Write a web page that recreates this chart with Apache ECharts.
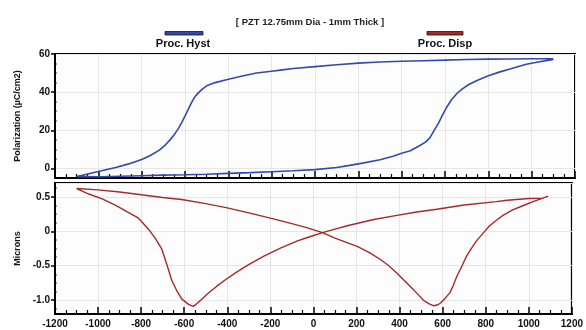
<!DOCTYPE html>
<html>
<head>
<meta charset="utf-8">
<script src="https://cdn.jsdelivr.net/npm/echarts@6/dist/echarts.min.js"></script>
<style>html,body{margin:0;padding:0;background:#fff}#c{width:586px;height:330px}</style>
</head>
<body>
<div id="c"></div>
<script>
// Polarization loop: upper branch (+1100 -> -1100) then lower branch (-1100 -> +1100)
const hystField = [1100,1000,900,800,700,600,500,400,300,200,100,0,-100,-150,-200,-270,-330,-400,-460,-500,-520,-540,-555,-570,-585,-600,-615,-630,-645,-665,-690,-720,-760,-800,-860,-920,-980,-1040,-1100,
  -1100,-1000,-900,-800,-700,-600,-500,-400,-300,-200,-100,0,100,160,220,300,360,400,440,480,510,530,550,570,590,610,630,655,680,710,745,800,850,900,975,1030,1080,1100];
const hystPol = [57.5,57.5,57.4,57.3,57.1,56.8,56.5,56.2,55.8,55.2,54.4,53.4,52.4,51.7,51.0,50.0,48.6,46.8,45.0,43.3,41.6,39.5,37.5,34.5,31.0,27.5,24.0,21.0,18.5,15.5,12.4,9.5,6.8,4.7,2.4,0.5,-1.1,-2.6,-4.3,
  -4.7,-4.4,-4.1,-3.8,-3.5,-3.3,-3.0,-2.6,-2.2,-1.7,-1.2,-0.6,0.5,1.6,2.8,4.6,6.4,8.0,9.3,11.8,13.8,16.0,20.0,23.8,28.3,32.5,36.0,39.3,41.7,44.0,46.0,48.6,50.5,52.1,54.6,55.8,56.8,57.2];

// Displacement butterfly
const dispField = [-1100,-1000,-900,-800,-700,-612,-500,-400,-305,-200,-100,-28,42,100,203,260,311,350,388,430,465,490,511,535,557,575,590,612,634,650,665,690,711,735,757,790,818,850,880,925,972,1020,1065,1090,
  1065,1000,900,849,700,572,480,388,280,157,100,42,-28,-74,-151,-230,-305,-360,-412,-450,-489,-520,-545,-558,-580,-612,-635,-658,-680,-704,-735,-766,-812,-858,-920,-981,-1043,-1100];
const dispMicrons = [0.62,0.60,0.57,0.53,0.49,0.46,0.40,0.34,0.27,0.19,0.11,0.05,-0.02,-0.10,-0.22,-0.31,-0.41,-0.50,-0.61,-0.74,-0.85,-0.93,-1.0,-1.05,-1.08,-1.07,-1.04,-0.97,-0.89,-0.78,-0.66,-0.50,-0.36,-0.24,-0.14,-0.02,0.08,0.16,0.23,0.31,0.37,0.43,0.48,0.51,
  0.48,0.475,0.45,0.43,0.38,0.32,0.28,0.23,0.17,0.08,0.03,-0.02,-0.09,-0.14,-0.24,-0.36,-0.49,-0.60,-0.71,-0.80,-0.90,-0.99,-1.06,-1.09,-1.06,-0.98,-0.86,-0.71,-0.49,-0.26,-0.10,0.03,0.19,0.27,0.38,0.47,0.54,0.62];

const titleText = '[ PZT 12.75mm Dia - 1mm Thick ]';
const legendNames = ['Proc. Hyst', 'Proc. Disp'];
const blue = '#3448ad', red = '#a82828';
const font = 'Liberation Sans, Arial, sans-serif';

const hystData = hystField.map((x, i) => [x, hystPol[i]]);
const dispData = dispField.map((x, i) => [x, dispMicrons[i]]);

const xCommon = {
  type: 'value', min: -1200, max: 1200, interval: 200,
  axisLine: { show: true, onZero: false, lineStyle: { color: '#000', width: 2 } },
  axisTick: { show: true, inside: true, length: 7, lineStyle: { color: '#000', width: 1.5 } },
  minorTick: { show: true, splitNumber: 4, length: 4, lineStyle: { color: '#000', width: 1.2 } },
  splitLine: { show: true, lineStyle: { color: '#e6e6e6', width: 1 } },
  minorSplitLine: { show: false }
};
const labelStyle = { color: '#111', fontFamily: font, fontWeight: 'bold', fontSize: 10 };

const chart = echarts.init(document.getElementById('c'), null, { renderer: 'canvas' });
chart.setOption({
  animation: false,
  backgroundColor: '#fff',
  title: { text: titleText, left: 305, top: 12, textAlign: 'center',
    textStyle: { fontFamily: font, fontSize: 9.5, fontWeight: 'bold', color: '#222' } },
  graphic: [
    { type: 'rect', shape: { x: 165, y: 31.5, width: 38, height: 3.5 }, style: { fill: blue, stroke: '#111', lineWidth: 0.8 } },
    { type: 'text', style: { text: legendNames[0], x: 183, y: 44, align: 'center', verticalAlign: 'middle', fill: '#111', font: 'bold 11px ' + font } },
    { type: 'rect', shape: { x: 427, y: 31.5, width: 36, height: 3.5 }, style: { fill: red, stroke: '#111', lineWidth: 0.8 } },
    { type: 'text', style: { text: legendNames[1], x: 445, y: 44, align: 'center', verticalAlign: 'middle', fill: '#111', font: 'bold 11px ' + font } }
  ],
  grid: [
    { left: 55, right: 11, top: 54, height: 124, show: true, borderColor: '#000', borderWidth: 2, backgroundColor: '#fdfdfd' },
    { left: 55, right: 11, top: 183, height: 131, show: true, borderColor: '#000', borderWidth: 2, backgroundColor: '#fdfdfd' }
  ],
  xAxis: [
    Object.assign({}, xCommon, { gridIndex: 0, axisLabel: { show: false } }),
    Object.assign({}, xCommon, { gridIndex: 1, axisLabel: Object.assign({ margin: 5, formatter: v => String(v) }, labelStyle) })
  ],
  yAxis: [
    { type: 'value', gridIndex: 0, min: -5, max: 60, splitNumber: 3,
      name: 'Polarization (µC/cm2)', nameLocation: 'middle', nameGap: 33,
      nameTextStyle: { fontFamily: font, fontWeight: 'bold', fontSize: 9, color: '#111' },
      axisLine: { show: true, onZero: false, lineStyle: { color: '#000', width: 2 } },
      axisTick: { show: true, length: 4, lineStyle: { color: '#000', width: 1.5 } },
      axisLabel: Object.assign({ showMinLabel: false, showMaxLabel: true, margin: 5 }, labelStyle),
      splitLine: { show: true, lineStyle: { color: '#e6e6e6' } } },
    { type: 'value', gridIndex: 0, min: -5, max: 60, splitNumber: 3, position: 'left',
      axisLine: { show: false, onZero: false }, axisLabel: { show: false }, splitLine: { show: false },
      axisTick: { show: false, inside: true },
      minorTick: { show: true, splitNumber: 4, length: 1.5, lineStyle: { color: '#000', width: 1.5 } } },
    { type: 'value', gridIndex: 1, min: -1.2, max: 0.7, splitNumber: 4,
      name: 'Microns', nameLocation: 'middle', nameGap: 33,
      nameTextStyle: { fontFamily: font, fontWeight: 'bold', fontSize: 9, color: '#111' },
      axisLine: { show: true, onZero: false, lineStyle: { color: '#000', width: 2 } },
      axisTick: { show: true, length: 4, lineStyle: { color: '#000', width: 1.5 } },
      axisLabel: Object.assign({ showMinLabel: false, showMaxLabel: false, margin: 5,
        formatter: v => (v === 0 ? '0' : v.toFixed(1)) }, labelStyle),
      splitLine: { show: true, lineStyle: { color: '#e6e6e6' } } },
    { type: 'value', gridIndex: 1, min: -1.2, max: 0.7, splitNumber: 4, position: 'left',
      axisLine: { show: false, onZero: false }, axisLabel: { show: false }, splitLine: { show: false },
      axisTick: { show: false, inside: true },
      minorTick: { show: true, splitNumber: 4, length: 1.5, lineStyle: { color: '#000', width: 1.5 } } }
  ],
  series: [
    { name: legendNames[0], type: 'line', xAxisIndex: 0, yAxisIndex: 0, data: hystData,
      showSymbol: false, lineStyle: { color: blue, width: 1.6 }, itemStyle: { color: blue } },
    { name: legendNames[1], type: 'line', xAxisIndex: 1, yAxisIndex: 2, data: dispData,
      showSymbol: false, lineStyle: { color: red, width: 1.4 }, itemStyle: { color: red } }
  ]
});
</script>
</body>
</html>
